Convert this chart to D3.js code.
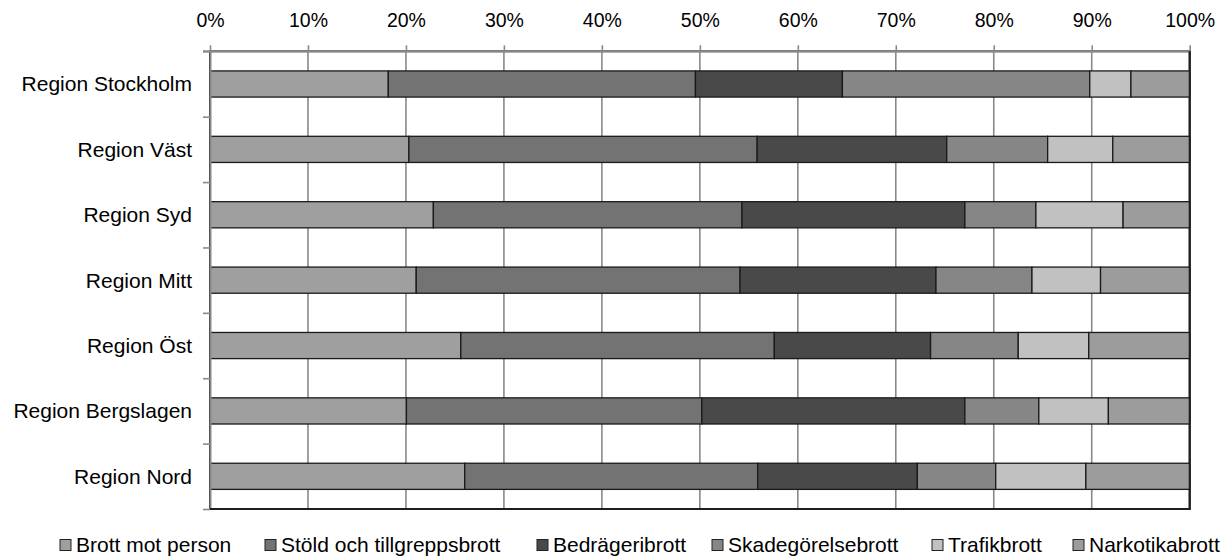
<!DOCTYPE html>
<html>
<head>
<meta charset="utf-8">
<script src="https://cdn.jsdelivr.net/npm/d3@7"></script>
<style>
  body { margin: 0; background: #fff; }
  svg { display: block; font-family: Arial, "Liberation Sans", sans-serif; }
</style>
</head>
<body>
<div class="chart"></div>
<script>
const width = 1225;
const height = 558;
const margin = { top: 51.3, right: 35, bottom: 49, left: 210 };

// regions, top to bottom
const regions = ["Region Stockholm", "Region Väst", "Region Syd", "Region Mitt", "Region Öst", "Region Bergslagen", "Region Nord"];
const seriesNames = ["Brott mot person", "Stöld och tillgreppsbrott", "Bedrägeribrott", "Skadegörelsebrott", "Trafikbrott", "Narkotikabrott"];
const seriesColors = ["#9f9f9f", "#737373", "#494949", "#868686", "#c1c1c1", "#9c9c9c"];

// share in percent, one array per series, same order as regions
const brottMotPerson = [18.2, 20.3, 22.8, 21.05, 25.6, 20.05, 26.0];
const stold = [31.35, 35.55, 31.5, 33.05, 32.0, 30.15, 29.9];
const bedrageri = [15.0, 19.35, 22.75, 20.0, 15.95, 26.85, 16.3];
const skadegorelse = [25.25, 10.3, 7.25, 9.8, 8.95, 7.55, 8.0];
const trafik = [4.2, 6.65, 8.9, 7.0, 7.2, 7.1, 9.2];
const narkotika = [6.0, 7.85, 6.8, 9.1, 10.3, 8.3, 10.6];

const tickValues = [0, 0.1, 0.2, 0.3, 0.4, 0.5, 0.6, 0.7, 0.8, 0.9, 1];

const seriesValues = [brottMotPerson, stold, bedrageri, skadegorelse, trafik, narkotika];
const rows = regions.map((r, i) => {
  const row = { region: r };
  seriesNames.forEach((s, j) => row[s] = seriesValues[j][i]);
  return row;
});

const stack = d3.stack().keys(seriesNames).offset(d3.stackOffsetExpand);
const stacked = stack(rows);

const svg = d3.select(".chart")
  .append("svg")
  .attr("width", width)
  .attr("height", height);

const x = d3.scaleLinear()
  .domain([0, 1])
  .range([margin.left, width - margin.right - 0.3]);

const y = d3.scaleBand()
  .domain(regions)
  .range([margin.top, height - margin.bottom])
  .paddingInner(0.6)
  .paddingOuter(0.3);

const yEdge = d3.scaleLinear()
  .domain([0, regions.length])
  .range([margin.top, height - margin.bottom]);

// plot area border
svg.append("rect")
  .attr("x", x(0))
  .attr("y", margin.top)
  .attr("width", x(1) - x(0))
  .attr("height", height - margin.bottom - margin.top)
  .attr("fill", "white")
  .attr("stroke", "#1e1e1e")
  .attr("stroke-width", 2);

// vertical gridlines
svg.append("g")
  .selectAll("line")
  .data(tickValues.slice(1, -1))
  .enter()
  .append("line")
  .attr("x1", d => x(d))
  .attr("x2", d => x(d))
  .attr("y1", margin.top)
  .attr("y2", height - margin.bottom)
  .attr("stroke", "#898989")
  .attr("stroke-width", 1.6);

// bars
const layers = svg.append("g")
  .selectAll("g")
  .data(stacked)
  .enter()
  .append("g")
  .attr("fill", (d, i) => seriesColors[i]);

layers.selectAll("rect")
  .data(d => d)
  .enter()
  .append("rect")
  .attr("x", d => x(d[0]))
  .attr("width", d => x(d[1]) - x(d[0]))
  .attr("y", d => y(d.data.region))
  .attr("height", y.bandwidth())
  .attr("stroke", "#1a1a1a")
  .attr("stroke-width", 1.3);

// top axis
const xAxis = d3.axisTop(x)
  .tickValues(tickValues)
  .tickFormat(d3.format(".0%"))
  .tickSize(6)
  .tickPadding(18);

const gx = svg.append("g")
  .attr("transform", `translate(0, ${margin.top})`)
  .call(xAxis);
gx.select(".domain").attr("stroke", "#898989").attr("stroke-width", 2)
  .attr("d", `M${x(0) - 7},0H${x(1)}`);
gx.selectAll(".tick line").attr("stroke", "#898989").attr("stroke-width", 1.6);
gx.selectAll(".tick text")
  .attr("fill", "#000")
  .attr("font-size", 19.5)
  .attr("font-family", "Arial, 'Liberation Sans', sans-serif");

// left axis with ticks between categories
const yAxis = d3.axisLeft(yEdge)
  .tickValues(d3.range(regions.length + 1))
  .tickFormat("")
  .tickSize(7)
  .tickSizeOuter(0);

const gy = svg.append("g")
  .attr("transform", `translate(${x(0)}, 0)`)
  .call(yAxis);
gy.select(".domain").attr("stroke", "#898989").attr("stroke-width", 2);
gy.selectAll(".tick line").attr("stroke", "#898989").attr("stroke-width", 1.6);

// category labels
svg.append("g")
  .selectAll("text")
  .data(regions)
  .enter()
  .append("text")
  .attr("x", x(0) - 18)
  .attr("y", d => y(d) + y.bandwidth() / 2)
  .attr("dy", "0.35em")
  .attr("text-anchor", "end")
  .attr("font-size", 21)
  .text(d => d);

// redraw bottom/right border over gridlines
svg.append("path")
  .attr("d", `M${x(0)},${height - margin.bottom}H${x(1)}V${margin.top}`)
  .attr("fill", "none")
  .attr("stroke", "#1e1e1e")
  .attr("stroke-width", 2);

// legend
const legendX = [60, 265, 537, 712, 932, 1073];
const legend = svg.append("g")
  .attr("transform", "translate(0, 545)");

const items = legend.selectAll("g")
  .data(seriesNames)
  .enter()
  .append("g")
  .attr("transform", (d, i) => `translate(${legendX[i]}, 0)`);

items.append("rect")
  .attr("x", 0)
  .attr("y", -5.5)
  .attr("width", 11)
  .attr("height", 11)
  .attr("fill", (d, i) => seriesColors[i])
  .attr("stroke", "#222")
  .attr("stroke-width", 1);

items.append("text")
  .attr("x", 16)
  .attr("y", 0)
  .attr("dy", "0.35em")
  .attr("font-size", 21)
  .text(d => d);
</script>
</body>
</html>
